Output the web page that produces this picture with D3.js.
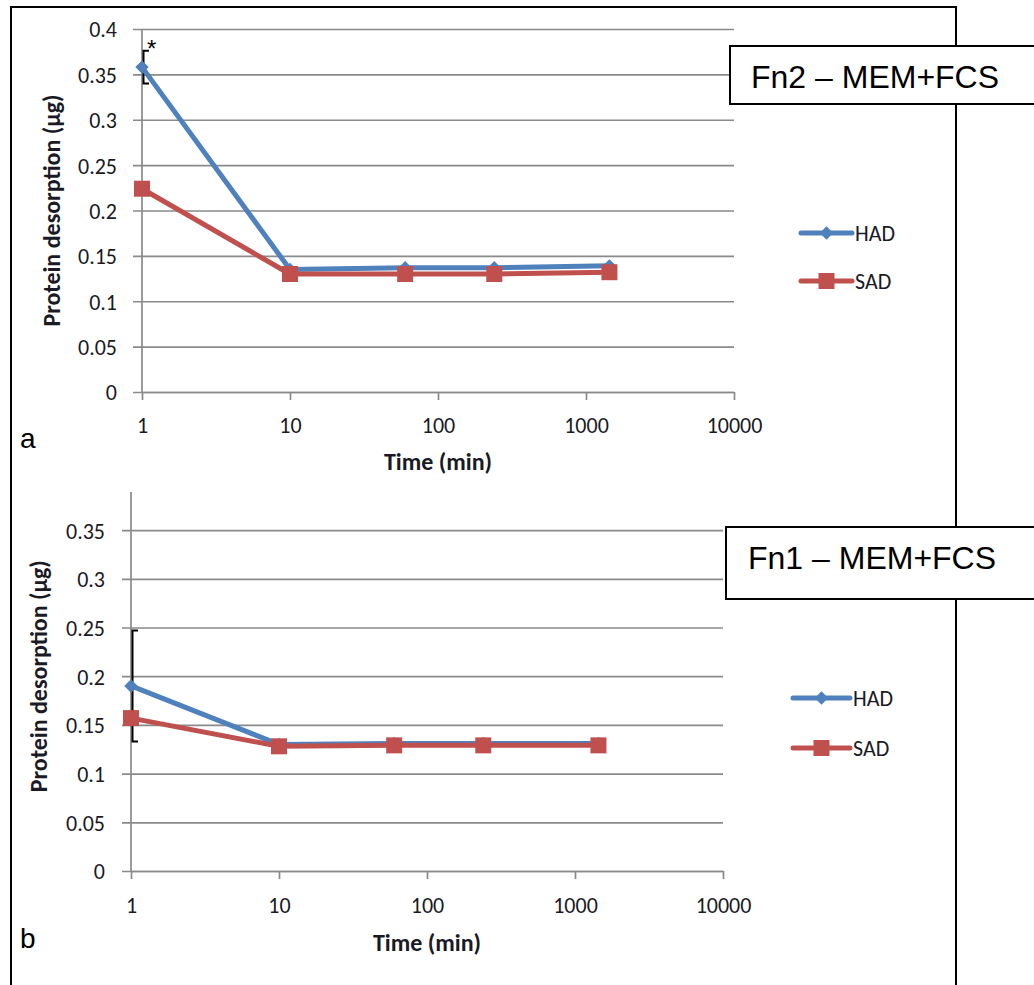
<!DOCTYPE html>
<html><head><meta charset="utf-8">
<script src="https://cdn.jsdelivr.net/npm/d3@7"></script>
<style>body{margin:0;background:#fff}</style>
</head><body><svg id="c" width="1034" height="985"></svg>
<script>
// ---------- data ----------
const times = [1, 10, 60, 240, 1440];
const xTickValues = [1, 10, 100, 1000, 10000];
const yTickValues = [0, 0.05, 0.1, 0.15, 0.2, 0.25, 0.3, 0.35, 0.4];
const seriesNames = ["HAD", "SAD"];
const hadA = [0.358, 0.135, 0.137, 0.137, 0.139];
const sadA = [0.224, 0.130, 0.130, 0.130, 0.132];
const hadErrA = [0.018, 0, 0, 0, 0];
const hadB = [0.190, 0.130, 0.131, 0.131, 0.131];
const sadB = [0.157, 0.128, 0.129, 0.129, 0.129];
const hadErrB = [0.057, 0, 0, 0, 0];
const panelLetters = ["a", "b"];
const panelTitles = ["Fn2 \u2013 MEM+FCS", "Fn1 \u2013 MEM+FCS"];
const xTitle = "Time (min)";
const yTitle = "Protein desorption (\u00b5g)";
const significance = ["*", ""];

// ---------- styles ----------
const colors = { HAD: "#4F81BD", SAD: "#C0504D" };
const gridColor = "#8a8a8a";
const labelFont = "Carlito, Calibri, Lato, sans-serif";
const boxFont = "Arial, 'Liberation Sans', sans-serif";
const textColor = "#1a1a24";

const svg = d3.select("#c");
svg.append("rect").attr("width", 1034).attr("height", 985).attr("fill", "#fff");

const diamond = { draw(ctx, size) { const r = Math.sqrt(size / 2);
  ctx.moveTo(0, -r); ctx.lineTo(r, 0); ctx.lineTo(0, r); ctx.lineTo(-r, 0); ctx.closePath(); } };
const symbols = { HAD: d3.symbol().type(diamond).size(90), SAD: d3.symbol().type(d3.symbolSquare).size(256) };

// outer frame
const frame = svg.append("g").attr("stroke", "#000").attr("stroke-width", 2).attr("fill", "none");
frame.append("path").attr("d", "M11,985 L11,7 L956,7 L956,985");

const defs = svg.append("defs");

const panels = [
  { had: hadA, sad: sadA, err: hadErrA, x0: 142, x1: 734, y0: 392, yTop: 29, clipTop: null,
    labelRight: 117, xLabBase: 433, xTitleBase: 470, yTitleX: 60,
    letterBase: 448, box: { x: 730, y: 46, h: 58, tx: 751, tb: 88 },
    legend: { x0: 801, x1: 852, ys: [233, 281], tx: 855 }, star: { dx: 5, base: 57 } },
  { had: hadB, sad: sadB, err: hadErrB, x0: 131, x1: 723, y0: 871, yTop: 481.4, clipTop: 492,
    labelRight: 105, xLabBase: 913, xTitleBase: 951, yTitleX: 47,
    letterBase: 948, box: { x: 726, y: 527, h: 72, tx: 748, tb: 569 },
    legend: { x0: 793, x1: 850, ys: [698, 748], tx: 853 }, star: null }
];

panels.forEach((p, i) => {
  const x = d3.scaleLog().domain([1, 10000]).range([p.x0, p.x1]);
  const y = d3.scaleLinear().domain([0, 0.4]).range([p.y0, p.yTop]);
  let g = svg.append("g");
  if (p.clipTop !== null) {
    const id = "clip" + i;
    defs.append("clipPath").attr("id", id).append("rect")
      .attr("x", 0).attr("y", p.clipTop).attr("width", 1034).attr("height", 985 - p.clipTop);
    g.attr("clip-path", `url(#${id})`);
  }
  // gridlines + y tick labels
  const gridLen = p.x1 - p.x0 + 9;
  const yAxis = g.append("g").attr("transform", `translate(${p.x1},0)`)
    .call(d3.axisLeft(y).tickValues(yTickValues).tickSize(gridLen)
      .tickFormat(d => String(+d.toFixed(2))));
  yAxis.select(".domain").remove();
  yAxis.selectAll(".tick line").attr("stroke", gridColor).attr("stroke-width", 1.7);
  yAxis.selectAll(".tick text").attr("x", p.labelRight - p.x1).attr("dy", "0.36em")
    .attr("font-family", labelFont).attr("font-size", 22).attr("fill", textColor).attr("text-anchor", "end");
  // y axis line
  g.append("line").attr("x1", x(1)).attr("x2", x(1)).attr("y1", y(0.4)).attr("y2", y(0))
    .attr("stroke", gridColor).attr("stroke-width", 1.7);
  // x axis
  const xAxis = g.append("g").attr("transform", `translate(0,${p.y0})`)
    .call(d3.axisBottom(x).tickValues(xTickValues).tickSize(8).tickSizeOuter(0).tickFormat(d3.format("d")));
  xAxis.select(".domain").attr("stroke", gridColor).attr("stroke-width", 1.7);
  xAxis.selectAll(".tick line").attr("stroke", gridColor).attr("stroke-width", 1.7);
  xAxis.selectAll(".tick text").attr("y", p.xLabBase - p.y0).attr("dy", 0)
    .attr("font-family", labelFont).attr("font-size", 22).attr("fill", textColor);

  // axis titles
  g.append("text").attr("x", (p.x0 + p.x1) / 2).attr("y", p.xTitleBase).attr("text-anchor", "middle")
    .attr("font-family", labelFont).attr("font-weight", "bold").attr("font-size", 24).attr("fill", textColor)
    .text(xTitle);
  g.append("text").attr("transform", `translate(${p.yTitleX},${(y(0) + y(0.4)) / 2}) rotate(-90)`)
    .attr("text-anchor", "middle").attr("font-family", labelFont).attr("font-weight", "bold")
    .attr("font-size", 24).attr("fill", textColor).text(yTitle);

  // error bars
  const eb = g.append("g").attr("stroke", "#000").attr("stroke-width", 2).attr("fill", "none");
  times.forEach((t, k) => {
    const e = p.err[k];
    if (!e) return;
    const cx = x(t) + 1.5, v = p.had[k];
    eb.append("path").attr("d",
      `M${x(t) + 7},${y(v + e)} H${cx} V${y(v - e)} H${x(t) + 7}`);
  });
  if (p.star) {
    g.append("text").attr("x", x(times[0]) + p.star.dx).attr("y", p.star.base)
      .attr("font-family", boxFont).attr("font-size", 24).attr("fill", "#000").text(significance[i]);
  }

  // series
  const series = [{ name: "HAD", vals: p.had }, { name: "SAD", vals: p.sad }];
  const line = d3.line().x(d => x(d.t)).y(d => y(d.v));
  series.forEach(s => {
    const pts = times.map((t, k) => ({ t, v: s.vals[k] }));
    g.append("path").datum(pts).attr("d", line).attr("fill", "none")
      .attr("stroke", colors[s.name]).attr("stroke-width", 5).attr("stroke-linejoin", "round");
  });
  series.forEach(s => {
    const pts = times.map((t, k) => ({ t, v: s.vals[k] }));
    g.selectAll(null).data(pts).join("path")
      .attr("transform", d => `translate(${x(d.t)},${y(d.v)})`)
      .attr("d", symbols[s.name]).attr("fill", colors[s.name]);
  });

  // legend
  const lg = svg.append("g");
  seriesNames.forEach((n, k) => {
    const ly = p.legend.ys[k];
    lg.append("line").attr("x1", p.legend.x0).attr("x2", p.legend.x1).attr("y1", ly).attr("y2", ly)
      .attr("stroke", colors[n]).attr("stroke-width", 5).attr("stroke-linecap", "round");
    lg.append("path").attr("transform", `translate(${(p.legend.x0 + p.legend.x1) / 2},${ly})`)
      .attr("d", symbols[n]).attr("fill", colors[n]);
    lg.append("text").attr("x", p.legend.tx).attr("y", ly).attr("dy", "0.36em")
      .attr("font-family", labelFont).attr("font-size", 22).attr("fill", textColor).text(n);
  });

  // title box
  svg.append("rect").attr("x", p.box.x).attr("y", p.box.y).attr("width", 400).attr("height", p.box.h)
    .attr("fill", "#fff").attr("stroke", "#000").attr("stroke-width", 2);
  svg.append("text").attr("x", p.box.tx).attr("y", p.box.tb).attr("font-family", boxFont)
    .attr("font-size", 32).attr("fill", "#000").text(panelTitles[i]);

  // panel letter
  svg.append("text").attr("x", 20).attr("y", p.letterBase).attr("font-family", boxFont)
    .attr("font-size", 28).attr("fill", "#000").text(panelLetters[i]);
});
</script></body></html>
